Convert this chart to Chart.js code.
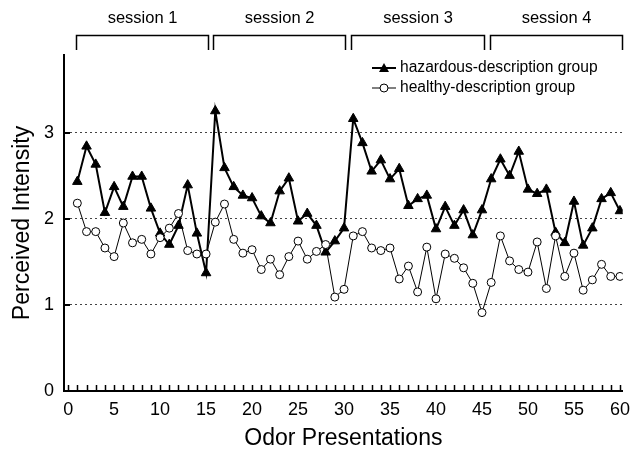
<!DOCTYPE html>
<html>
<head>
<meta charset="utf-8">
<script src="https://cdn.jsdelivr.net/npm/chart.js@4"></script>
<style>
  html, body { margin: 0; padding: 0; background: #fff; }
  #wrap { width: 638px; height: 450px; }
</style>
</head>
<body>
<div id="wrap"><canvas id="chart" width="638" height="450"></canvas></div>
<script>
// odor presentation number (x)
const presentations = [1, 2, 3, 4, 5, 6, 7, 8, 9, 10, 11, 12, 13, 14, 15, 16, 17, 18, 19, 20,
    21, 22, 23, 24, 25, 26, 27, 28, 29, 30, 31, 32, 33, 34, 35, 36, 37, 38, 39, 40,
    41, 42, 43, 44, 45, 46, 47, 48, 49, 50, 51, 52, 53, 54, 55, 56, 57, 58, 59, 60];

const hazardous = [2.43, 2.84, 2.63, 2.07, 2.37, 2.14, 2.49, 2.49, 2.12, 1.83,
    1.70, 1.92, 2.39, 1.83, 1.37, 3.25, 2.59, 2.37, 2.27, 2.24,
    2.03, 1.95, 2.32, 2.47, 1.97, 2.06, 1.92, 1.61, 1.74, 1.89,
    3.16, 2.88, 2.55, 2.68, 2.46, 2.58, 2.15, 2.23, 2.27, 1.88,
    2.14, 1.92, 2.10, 1.81, 2.10, 2.46, 2.69, 2.50, 2.78, 2.34,
    2.29, 2.34, 1.84, 1.72, 2.20, 1.69, 1.89, 2.23, 2.30, 2.09];

const healthy = [2.18, 1.85, 1.85, 1.66, 1.56, 1.95, 1.72, 1.76, 1.59, 1.78,
    1.89, 2.06, 1.63, 1.59, 1.59, 1.96, 2.17, 1.76, 1.60, 1.64,
    1.41, 1.53, 1.35, 1.56, 1.74, 1.53, 1.62, 1.70, 1.09, 1.18,
    1.80, 1.85, 1.66, 1.63, 1.66, 1.30, 1.45, 1.15, 1.67, 1.07,
    1.59, 1.54, 1.43, 1.25, 0.91, 1.26, 1.80, 1.51, 1.41, 1.38,
    1.73, 1.19, 1.80, 1.33, 1.60, 1.17, 1.29, 1.47, 1.33, 1.33];

const xTicks = [0, 5, 10, 15, 20, 25, 30, 35, 40, 45, 50, 55, 60];
const yTicks = [0, 1, 2, 3];

// session brackets (in presentation units)
const sessionLabels = ['session 1', 'session 2', 'session 3', 'session 4'];
const sessionStart = [0.85, 15.8, 30.8, 45.85];
const sessionEnd = [15.2, 30.15, 45.2, 60.2];

const FONT = '"Liberation Sans", Arial, Helvetica, sans-serif';

// axis ticks drawn inward, session brackets and the legend
const decorations = {
    id: 'decorations',
    afterDraw(chart) {
        const ctx = chart.ctx;
        const xs = chart.scales.x, ys = chart.scales.y;
        const area = chart.chartArea;
        ctx.save();
        ctx.strokeStyle = '#000';

        // x tick marks, one per presentation
        ctx.lineWidth = 1.5;
        ctx.beginPath();
        for (let v = 0; v <= 60; v++) {
            const px = Math.round(xs.getPixelForValue(v)) + 0.5;
            ctx.moveTo(px, area.bottom);
            ctx.lineTo(px, area.bottom - 6);
        }
        ctx.stroke();

        // y tick marks
        ctx.lineWidth = 2;
        ctx.beginPath();
        yTicks.forEach(v => {
            if (v === 0) return;
            const py = Math.round(ys.getPixelForValue(v));
            ctx.moveTo(area.left, py);
            ctx.lineTo(area.left + 6, py);
        });
        ctx.stroke();

        // session brackets
        ctx.lineWidth = 1.5;
        ctx.fillStyle = '#000';
        ctx.font = '16.5px ' + FONT;
        ctx.textAlign = 'center';
        ctx.textBaseline = 'middle';
        sessionLabels.forEach((lab, i) => {
            const a = Math.round(xs.getPixelForValue(sessionStart[i])) + 0.5;
            const b = Math.round(xs.getPixelForValue(sessionEnd[i])) + 0.5;
            ctx.beginPath();
            ctx.moveTo(a, 50);
            ctx.lineTo(a, 35.5);
            ctx.lineTo(b, 35.5);
            ctx.lineTo(b, 50);
            ctx.stroke();
            ctx.fillText(lab, (a + b) / 2, 18);
        });

        // legend
        const items = [
            { label: 'hazardous-description group', y: 68, width: 2, style: 'triangle' },
            { label: 'healthy-description group', y: 88, width: 1, style: 'circle' }
        ];
        ctx.font = '15.6px ' + FONT;
        ctx.textAlign = 'left';
        items.forEach(it => {
            ctx.lineWidth = it.width;
            ctx.beginPath();
            ctx.moveTo(372, it.y);
            ctx.lineTo(396, it.y);
            ctx.stroke();
            if (it.style === 'triangle') {
                ctx.beginPath();
                ctx.moveTo(384, it.y - 5);
                ctx.lineTo(389, it.y + 4);
                ctx.lineTo(379, it.y + 4);
                ctx.closePath();
                ctx.fill();
            } else {
                ctx.beginPath();
                ctx.arc(384, it.y, 4, 0, Math.PI * 2);
                ctx.fillStyle = '#fff';
                ctx.fill();
                ctx.lineWidth = 1;
                ctx.stroke();
                ctx.fillStyle = '#000';
            }
            ctx.fillText(it.label, 400, it.y);
        });
        ctx.restore();
    }
};

const ctx = document.getElementById('chart').getContext('2d');
new Chart(ctx, {
    type: 'line',
    data: {
        datasets: [{
            label: 'healthy-description group',
            data: presentations.map((p, i) => ({ x: p, y: healthy[i] })),
            borderColor: '#000',
            borderWidth: 1,
            pointStyle: 'circle',
            pointRadius: 4,
            pointBackgroundColor: '#fff',
            pointBorderColor: '#000',
            pointBorderWidth: 1,
            tension: 0,
            order: 0
        }, {
            label: 'hazardous-description group',
            data: presentations.map((p, i) => ({ x: p, y: hazardous[i] })),
            borderColor: '#000',
            borderWidth: 2,
            pointStyle: 'triangle',
            pointRadius: 5.5,
            pointBackgroundColor: '#000',
            pointBorderColor: '#000',
            pointBorderWidth: 1,
            tension: 0,
            order: 1
        }]
    },
    options: {
        responsive: false,
        animation: false,
        layout: { padding: { top: 55, right: 10, left: 0, bottom: 0 } },
        plugins: {
            legend: { display: false },
            tooltip: { enabled: false }
        },
        scales: {
            x: {
                type: 'linear',
                min: -0.45,
                max: 60.3,
                afterFit(scale) { scale.height = 59; },
                afterBuildTicks(scale) {
                    scale.ticks = xTicks.map(v => ({ value: v }));
                },
                grid: { display: false, drawTicks: false },
                border: { display: true, color: '#000', width: 2 },
                ticks: {
                    color: '#000',
                    font: { family: FONT, size: 18 },
                    padding: 8,
                    maxRotation: 0
                },
                title: {
                    display: true,
                    text: 'Odor Presentations',
                    color: '#000',
                    font: { family: FONT, size: 23 },
                    padding: { top: 0, bottom: -2 }
                }
            },
            y: {
                min: 0,
                max: 3.9,
                afterFit(scale) { scale.width = 64; },
                afterBuildTicks(scale) {
                    scale.ticks = yTicks.map(v => ({ value: v }));
                },
                grid: {
                    drawTicks: false,
                    color: c => c.tick && c.tick.value === 0 ? 'rgba(0,0,0,0)' : '#444',
                    lineWidth: 1
                },
                border: { display: true, color: '#000', width: 2, dash: [2, 3] },
                ticks: {
                    color: '#000',
                    font: { family: FONT, size: 18 },
                    padding: 10
                },
                title: {
                    display: true,
                    text: 'Perceived Intensity',
                    color: '#000',
                    font: { family: FONT, size: 23 },
                    padding: { top: 9, bottom: 0 }
                }
            }
        }
    },
    plugins: [decorations]
});
</script>
</body>
</html>
